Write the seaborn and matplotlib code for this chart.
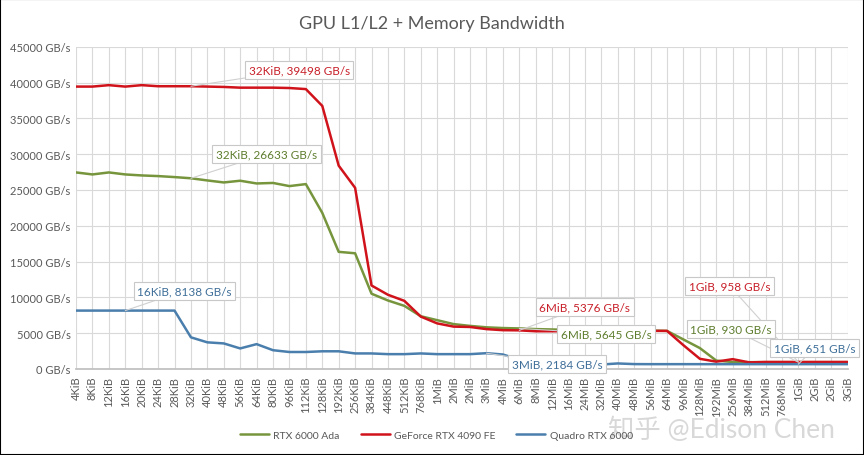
import seaborn as sns
import pandas as pd
from matplotlib import pyplot as plt
from matplotlib.patches import Rectangle

sizes = ['4KiB', '8KiB', '12KiB', '16KiB', '20KiB', '24KiB', '28KiB', '32KiB', '40KiB', '48KiB',
         '56KiB', '64KiB', '80KiB', '96KiB', '112KiB', '128KiB', '192KiB', '256KiB', '384KiB', '448KiB',
         '512KiB', '768KiB', '1MiB', '2MiB', '2MiB', '3MiB', '4MiB', '6MiB', '8MiB', '12MiB',
         '16MiB', '24MiB', '32MiB', '40MiB', '48MiB', '56MiB', '64MiB', '96MiB', '128MiB', '192MiB',
         '256MiB', '384MiB', '512MiB', '768MiB', '1GiB', '2GiB', '2GiB', '3GiB']

rtx6000ada = [27450, 27170, 27450, 27170, 27030, 26940, 26800, 26633, 26330, 26050,
              26290, 25910, 25980, 25540, 25820, 21800, 16350, 16150, 10500, 9550,
              8800, 7350, 6800, 6250, 6000, 5800, 5700, 5645, 5550, 5500,
              5450, 5450, 5400, 5400, 5350, 5350, 5300, 4100, 2900, 1150,
              950, 930, 930, 930, 930, 930, 930, 930]

rtx4090 = [39450, 39450, 39650, 39450, 39650, 39500, 39500, 39498, 39450, 39400,
           39300, 39300, 39300, 39250, 39100, 36750, 28400, 25300, 11650, 10350,
           9500, 7300, 6350, 5900, 5850, 5550, 5400, 5376, 5250, 5250,
           5250, 5250, 5250, 5250, 5300, 5300, 5300, 3300, 1400, 1000,
           1350, 900, 958, 958, 958, 958, 958, 958]

quadro6000 = [8138, 8138, 8138, 8138, 8138, 8138, 8138, 4400, 3700, 3550,
              2850, 3450, 2600, 2350, 2350, 2450, 2450, 2150, 2150, 2050,
              2050, 2150, 2050, 2050, 2050, 2184, 2000, 1300, 700, 640,
              630, 620, 600, 750, 660, 650, 651, 651, 651, 651,
              651, 651, 651, 651, 651, 651, 651, 651]

series = ['RTX 6000 Ada', 'GeForce RTX 4090 FE', 'Quadro RTX 6000']
colors = ['#77953D', '#D0121B', '#4A7EAC']
text_colors = ['#5E7D2E', '#C8202A', '#3F6F99']

frames = []
for name, vals in zip(series, [rtx6000ada, rtx4090, quadro6000]):
    frames.append(pd.DataFrame({'idx': range(len(sizes)), 'bw': vals, 'gpu': name}))
df = pd.concat(frames, ignore_index=True)

sns.set_theme(style='white')
plt.rcParams['font.family'] = ['Lato', 'Noto Sans CJK SC', 'DejaVu Sans']

fig = plt.figure(figsize=(8.64, 4.56), dpi=100)
ax = fig.add_axes([0.088, 0.189, 0.893, 0.706])

sns.lineplot(data=df, x='idx', y='bw', hue='gpu', hue_order=series, palette=colors,
             sort=False, linewidth=1.8, ax=ax, legend=False)

ax.set_xlim(0, len(sizes) - 1)
ax.set_ylim(0, 45000)
ax.set_xticks(range(len(sizes)))
ax.set_xticklabels(sizes, rotation=90, fontsize=8, color='#595959')
yt = list(range(0, 45001, 5000))
ax.set_yticks(yt)
ax.set_yticklabels([f'{v} GB/s' for v in yt], fontsize=8, color='#595959')
ax.grid(True, color='#D9D9D9', linewidth=0.8)
ax.set_axisbelow(True)
for s in ['top', 'right', 'left']:
    ax.spines[s].set_visible(False)
ax.spines['bottom'].set_color('#BFBFBF')
ax.tick_params(axis='x', length=3, color='#BFBFBF', pad=2)
ax.tick_params(axis='y', length=0, pad=4)
ax.set_xlabel('')
ax.set_ylabel('')

fig.suptitle('GPU L1/L2 + Memory Bandwidth', y=0.965, fontsize=13, color='#595959')

# data callouts
callouts = [
    (7, 39498, 13.6, 41810, '32KiB, 39498 GB/s', 1),
    (7, 26633, 11.6, 30020, '32KiB, 26633 GB/s', 0),
    (3, 8138, 6.6, 10940, '16KiB, 8138 GB/s', 2),
    (27, 5376, 31.0, 8700, '6MiB, 5376 GB/s', 1),
    (27, 5645, 32.3, 4910, '6MiB, 5645 GB/s', 0),
    (25, 2184, 29.3, 700, '3MiB, 2184 GB/s', 2),
    (44, 958, 39.8, 11640, '1GiB, 958 GB/s', 1),
    (44, 930, 39.9, 5610, '1GiB, 930 GB/s', 0),
    (44, 651, 45.0, 2950, '1GiB, 651 GB/s', 2),
]
for px, py, tx, ty, txt, ci in callouts:
    ax.annotate(txt, xy=(px, py), xytext=(tx, ty), ha='center', va='center',
                fontsize=8.5, color=text_colors[ci], annotation_clip=False,
                bbox=dict(boxstyle='square,pad=0.3', fc='white', ec='#C8C8C8', lw=0.8),
                arrowprops=dict(arrowstyle='-', color='#D0D0D0', lw=0.8,
                                shrinkA=0, shrinkB=0))

handles = [plt.Line2D([], [], color=c, lw=1.8) for c in colors]
fig.legend(handles, series, loc='center', bbox_to_anchor=(0.505, 0.044), ncol=3,
           frameon=False, fontsize=7.5, handlelength=2.8, columnspacing=2.0,
           handletextpad=0.4, labelcolor='#595959')

fig.text(0.835, 0.057, '知乎 @Edison Chen', fontsize=19, color='#AAAAAA', alpha=0.45,
         ha='center', va='center')

fig.patches.append(Rectangle((0, 0), 1, 1, transform=fig.transFigure, fill=False,
                             edgecolor='black', linewidth=1.5))

fig.savefig('out.png', dpi=100)
